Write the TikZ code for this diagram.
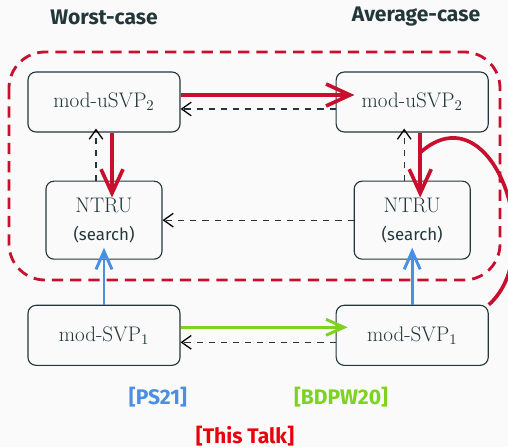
\documentclass[tikz,border=0pt]{standalone}
\usepackage{fontspec}
\newfontfamily\fira{Fira Sans}
\usepackage{xcolor}
\usepackage{tikz}
\usetikzlibrary{arrows.meta,positioning,calc}

\definecolor{mDark}{HTML}{23373B}
\definecolor{talkred}{HTML}{C8102E}
\definecolor{citered}{HTML}{E8000B}
\definecolor{psblue}{HTML}{4A90E2}
\definecolor{bdgreen}{HTML}{7ED321}
\definecolor{bggray}{HTML}{FAFAFA}

\begin{document}
\begin{tikzpicture}[
    x=0.025cm, y=-0.025cm,
    node distance=1.2cm and 3.875cm,
    box1/.style={rectangle, draw=mDark, text=mDark, line width=0.8pt, rounded corners=2mm, align=center, minimum height=1.5cm, minimum width=3.8cm, font=\fontsize{15}{18}\selectfont},
    box2/.style={box1, minimum height=1.95cm, minimum width=2.9cm},
    title/.style={text=mDark, font=\fira\bfseries\fontsize{15}{18}\selectfont},
    cite/.style={font=\fira\bfseries\fontsize{15}{18}\selectfont},
    redarrow/.style={-{Straight Barb[sharp,length=6mm,width=5.5mm]}, line width=2.6pt, draw=talkred},
    bluearrow/.style={-{Straight Barb[sharp,length=4.5mm,width=4mm]}, line width=2.1pt, draw=psblue},
    greenarrow/.style={-{Straight Barb[sharp,length=4.5mm,width=4mm]}, line width=2.1pt, draw=bdgreen},
    backarrow/.style={-{Straight Barb[length=2.4mm,width=3.4mm,black]}, line width=0.9pt, draw=mDark, dash pattern=on 4.3pt off 4.3pt},
    talkframe/.style={draw=talkred, line width=2pt, rounded corners=0.9cm, dash pattern=on 8pt off 5pt}
]
    \useasboundingbox [fill=bggray] (0,0) rectangle (508,447);

    \node [title] (worst) at (104,17) {Worst-case};
    \node [title] (avg) at (416,17) {Average-case};

    \node [box1] (usvpL) at (104,102) {mod-uSVP\textsubscript{2}};
    \node [box2, below=of usvpL] (ntruL) {NTRU\\[2pt]{\fira\fontsize{12}{14}\selectfont(search)}};
    \node [box1, below=1.125cm of ntruL] (svpL) {mod-SVP\textsubscript{1}};
    \node [box1, right=of usvpL] (usvpR) {mod-uSVP\textsubscript{2}};
    \node [box2, below=of usvpR] (ntruR) {NTRU\\[2pt]{\fira\fontsize{12}{14}\selectfont(search)}};
    \node [box1, below=1.125cm of ntruR] (svpR) {mod-SVP\textsubscript{1}};

    \draw [talkframe] (9,52) rectangle (500,280);

    \draw [redarrow, shorten >=-0.47cm] ([yshift=1.75mm]usvpL.east) -- ([yshift=1.75mm]usvpR.west);
    \draw [backarrow] ([yshift=-1.75mm]usvpR.west) -- ([yshift=-1.75mm]usvpL.east);
    \draw [backarrow] (ntruR.west) -- (ntruL.east);
    \draw [greenarrow, shorten >=-0.3cm] ([yshift=2mm]svpL.east) -- ([yshift=2mm]svpR.west);
    \draw [backarrow] ([yshift=-1.75mm]svpR.west) -- ([yshift=-1.75mm]svpL.east);

    \draw [backarrow, shorten >=-0.1cm] ([xshift=-2mm]ntruL.north) -- ([xshift=-2mm]usvpL.south);
    \draw [redarrow, shorten >=-0.425cm] ([xshift=2mm]usvpL.south) -- ([xshift=2mm]ntruL.north);
    \draw [bluearrow, shorten >=-0.3cm] (svpL.north) -- (ntruL.south);

    \draw [backarrow, shorten >=-0.1cm] ([xshift=-2mm]ntruR.north) -- ([xshift=-2mm]usvpR.south);
    \draw [redarrow, shorten >=-0.425cm] ([xshift=2mm]usvpR.south) -- ([xshift=2mm]ntruR.north);
    \draw [bluearrow, shorten >=-0.3cm] (svpR.north) -- (ntruR.south);

    \coordinate (join) at ([xshift=2mm,yshift=-5mm]usvpR.south);
    \draw [talkred, line width=2.6pt] (svpR.north east) .. controls +(60,-53) and +(72,-64) .. (join);

    \node [cite, text=psblue] (ps) at (158,397) {[PS21]};
    \node [cite, text=bdgreen] (bdpw) at (341,397) {[BDPW20]};
    \node [cite, text=citered] (talk) at (245,436) {[This Talk]};
\end{tikzpicture}
\end{document}
